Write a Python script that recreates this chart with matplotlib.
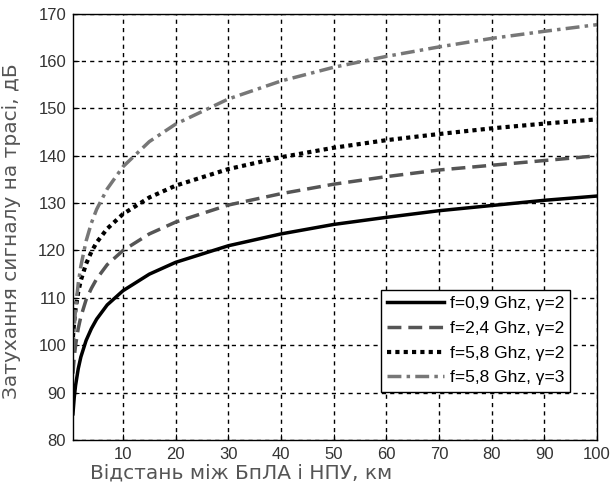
import numpy as np
import matplotlib
matplotlib.use("Agg")
import matplotlib.pyplot as plt

# distance, km
distance = [0.5, 0.75, 1, 1.5, 2, 3, 4, 5, 7, 10, 15, 20, 30, 40, 50, 60, 70, 80, 90, 100]

# path loss, dB
loss_09_g2 = [85.5, 89.0, 91.5, 95.0, 97.5, 101.0, 103.5, 105.5, 108.5, 111.5, 115.0, 117.5,
              121.0, 123.5, 125.5, 127.0, 128.4, 129.5, 130.6, 131.5]
loss_24_g2 = [94.0, 97.5, 100.0, 103.5, 106.0, 109.6, 112.0, 114.0, 117.0, 120.0, 123.5, 126.0,
              129.6, 132.0, 134.0, 135.6, 137.0, 138.0, 139.0, 140.0]
loss_58_g2 = [101.7, 105.2, 107.7, 111.2, 113.7, 117.2, 119.7, 121.7, 124.6, 127.7, 131.2, 133.7,
              137.2, 139.7, 141.7, 143.3, 144.6, 145.8, 146.8, 147.7]
loss_58_g3 = [98.7, 104.0, 107.7, 113.0, 116.7, 122.0, 125.8, 128.7, 133.0, 137.7, 143.0, 146.7,
              152.0, 155.8, 158.7, 161.0, 163.0, 164.8, 166.3, 167.7]

labels = ["f=0,9 Ghz, γ=2", "f=2,4 Ghz, γ=2", "f=5,8 Ghz, γ=2", "f=5,8 Ghz, γ=3"]
x_ticks = [10, 20, 30, 40, 50, 60, 70, 80, 90, 100]
y_ticks = [80, 90, 100, 110, 120, 130, 140, 150, 160, 170]

fig = plt.figure(figsize=(6.13, 4.92), dpi=100)
ax = fig.add_axes([0.119, 0.106, 0.855, 0.866])

ax.plot(distance, loss_09_g2, color="black", lw=2.5, ls="-", label=labels[0])
ax.plot(distance, loss_24_g2, color="#555555", lw=2.5, ls=(0, (4, 2)), label=labels[1])
ax.plot(distance, loss_58_g2, color="black", lw=3.0, ls=(0, (1, 1)), label=labels[2])
ax.plot(distance, loss_58_g3, color="#777777", lw=2.5, ls=(0, (4, 1.5, 1, 1.5)), label=labels[3])

ax.set_xlim(0.5, 100)
ax.set_ylim(80, 170)
ax.set_xticks(x_ticks)
ax.set_yticks(y_ticks)
ax.tick_params(direction="in", length=4, labelsize=12, colors="black", pad=5)
for lab in ax.get_xticklabels() + ax.get_yticklabels():
    lab.set_fontfamily("Liberation Sans")
    lab.set_color("#333333")

ax.grid(True, color="black", ls=(0, (3, 3)), lw=1.0)
for s in ax.spines.values():
    s.set_linewidth(1.0)

ax.set_xlabel("Відстань між БпЛА і НПУ, км", fontsize=14.5, color="#555555",
              family="DejaVu Sans")
ax.set_ylabel("Затухання сигналу на трасі, дБ", fontsize=14.5, color="#555555",
              family="DejaVu Sans")
ax.xaxis.set_label_coords(0.32, -0.055)
ax.yaxis.set_label_coords(-0.1, 0.49)

leg = ax.legend(loc="lower right", bbox_to_anchor=(0.965, 0.093), fancybox=False,
                framealpha=1, edgecolor="black", borderpad=0.35, handlelength=3.3,
                handletextpad=0.3, labelspacing=0.55,
                prop={"family": "Liberation Sans", "size": 12.5})
leg.get_frame().set_linewidth(1.0)

fig.savefig("out.png", dpi=100)
